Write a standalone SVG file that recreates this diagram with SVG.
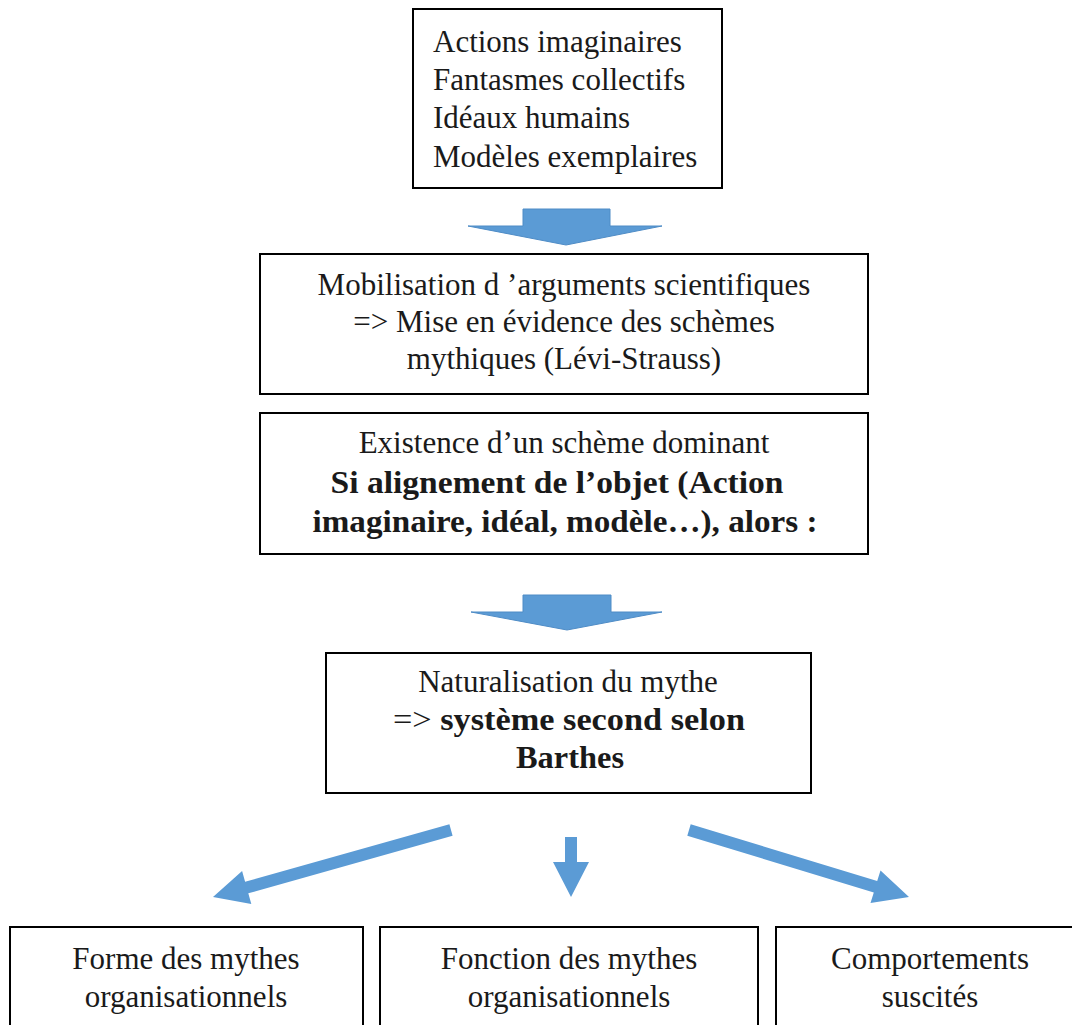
<svg xmlns="http://www.w3.org/2000/svg" width="1072" height="1025" viewBox="0 0 1072 1025">
<style>
.box{fill:#fff;stroke:#000;stroke-width:2}
.t{font-family:"Liberation Serif","Times New Roman",serif;font-size:31px;fill:#1a1a1a}
.c{text-anchor:middle}
.b{font-weight:bold}
.blk{fill:#5B9BD5;stroke:#4F8CC6;stroke-width:1}
.arr{fill:#5B9BD5}
</style>
<rect width="1072" height="1025" fill="#fff"/>
<g id="connectors">
<polygon class="blk" points="523,209 610,209 610,226 662,226 566,245 468,226 523,226"/>
<polygon class="blk" points="523,595 611,595 611,612 662,612 567,630 471,612 523,612"/>
<polygon class="arr" points="449.4,824.2 245.1,881.7 242.1,871.1 213,897 251.3,903.9 248.3,893.3 452.6,835.8"/>
<polygon class="arr" points="565,837 577,837 577,862 589,862 571,897 553,862 565,862"/>
<polygon class="arr" points="690.7,824.3 877.2,881.1 880.5,870.5 909,897 870.5,903.1 873.8,892.5 687.3,835.7"/>
</g>
<g id="n1">
<rect class="box" x="413" y="9" width="309" height="179"/>
<text class="t" x="433" y="52">Actions imaginaires</text>
<text class="t" x="433" y="90">Fantasmes collectifs</text>
<text class="t" x="433" y="128">Idéaux humains</text>
<text class="t" x="433" y="167">Modèles exemplaires</text>
</g>
<g id="n2">
<rect class="box" x="260" y="254" width="608" height="140"/>
<text class="t c" x="564" y="295">Mobilisation d ’arguments scientifiques</text>
<text class="t c" x="564" y="332">=&gt; Mise en évidence des schèmes</text>
<text class="t c" x="564" y="369">mythiques (Lévi-Strauss)</text>
</g>
<g id="n3">
<rect class="box" x="260" y="413" width="608" height="141"/>
<text class="t c" x="564" y="453">Existence d’un schème dominant</text>
<text class="t c b" x="557" y="493" textLength="453" lengthAdjust="spacingAndGlyphs">Si alignement de l’objet (Action</text>
<text class="t c b" x="565" y="532" textLength="505" lengthAdjust="spacingAndGlyphs">imaginaire, idéal, modèle…), alors :</text>
</g>
<g id="n4">
<rect class="box" x="326" y="653" width="485" height="140"/>
<text class="t c" x="568" y="692">Naturalisation du mythe</text>
<text class="t c" x="569" y="730" textLength="352" lengthAdjust="spacingAndGlyphs">=&gt; <tspan class="b">système second selon</tspan></text>
<text class="t c b" x="570" y="768" textLength="108" lengthAdjust="spacingAndGlyphs">Barthes</text>
</g>
<g id="n5">
<rect class="box" x="10" y="927" width="353" height="120"/>
<text class="t c" x="186" y="969">Forme des mythes</text>
<text class="t c" x="186" y="1007">organisationnels</text>
</g>
<g id="n6">
<rect class="box" x="380" y="927" width="378" height="120"/>
<text class="t c" x="569" y="969">Fonction des mythes</text>
<text class="t c" x="569" y="1007">organisationnels</text>
</g>
<g id="n7">
<rect class="box" x="776" y="927" width="310" height="120"/>
<text class="t c" x="930" y="969">Comportements</text>
<text class="t c" x="930" y="1007">suscités</text>
</g>
</svg>
